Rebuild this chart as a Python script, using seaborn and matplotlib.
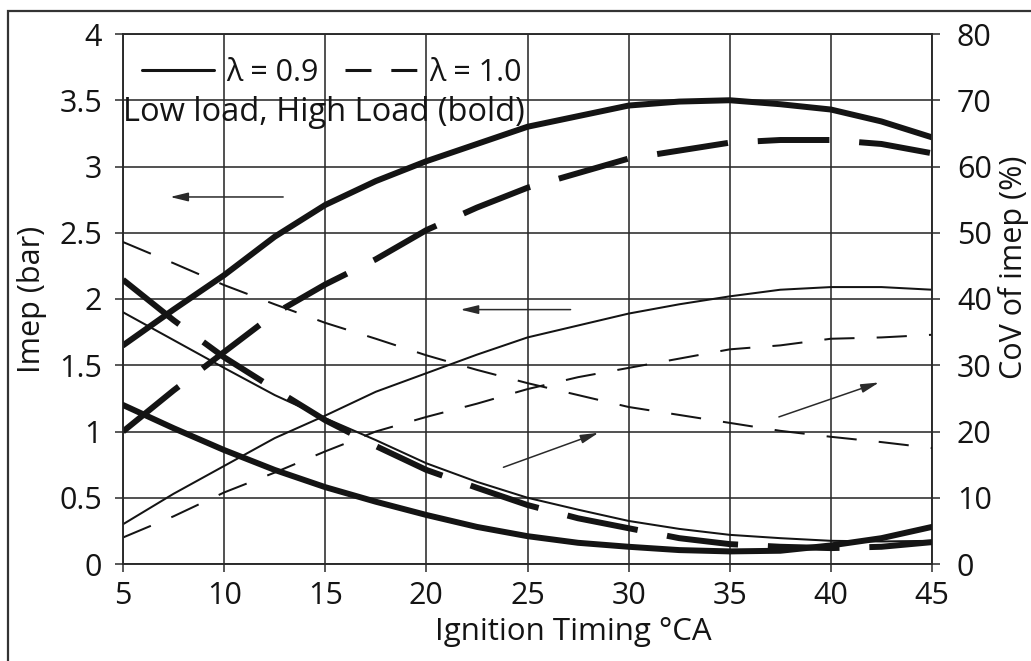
import matplotlib
matplotlib.use("Agg")
import matplotlib.pyplot as plt
from matplotlib.lines import Line2D
from matplotlib.patches import Rectangle
import pandas as pd
import seaborn as sns

# Ignition timing (deg CA)
timing = [5, 7.5, 10, 12.5, 15, 17.5, 20, 22.5, 25, 27.5, 30, 32.5, 35, 37.5, 40, 42.5, 45]

# Imep (bar) - left axis
imep_high_l09 = [1.65, 1.92, 2.18, 2.47, 2.71, 2.89, 3.04, 3.17, 3.30, 3.38, 3.46, 3.49, 3.50, 3.47, 3.43, 3.34, 3.22]
imep_high_l10 = [1.00, 1.31, 1.60, 1.89, 2.11, 2.30, 2.52, 2.69, 2.84, 2.95, 3.06, 3.12, 3.18, 3.20, 3.20, 3.17, 3.10]
imep_low_l09 = [0.30, 0.53, 0.74, 0.95, 1.12, 1.30, 1.44, 1.58, 1.71, 1.80, 1.89, 1.96, 2.02, 2.07, 2.09, 2.09, 2.07]
imep_low_l10 = [0.20, 0.36, 0.54, 0.69, 0.85, 1.00, 1.11, 1.21, 1.32, 1.41, 1.48, 1.55, 1.62, 1.65, 1.70, 1.71, 1.73]

# CoV of imep (%) - right axis
cov_high_l09 = [24.0, 20.5, 17.2, 14.2, 11.6, 9.4, 7.4, 5.6, 4.2, 3.2, 2.6, 2.1, 1.9, 2.0, 2.8, 3.9, 5.6]
cov_high_l10 = [42.9, 36.8, 31.2, 26.4, 21.7, 17.8, 14.2, 11.5, 8.9, 6.9, 5.4, 3.9, 3.0, 2.6, 2.4, 2.6, 3.3]
cov_low_l09 = [38.0, 33.8, 29.6, 25.5, 22.0, 18.7, 15.2, 12.4, 10.0, 8.2, 6.5, 5.3, 4.4, 3.9, 3.5, 3.4, 3.5]
cov_low_l10 = [48.6, 45.4, 42.1, 39.2, 36.4, 34.0, 31.5, 29.3, 27.3, 25.5, 23.7, 22.5, 21.3, 20.1, 19.2, 18.4, 17.5]

x_ticks = [5, 10, 15, 20, 25, 30, 35, 40, 45]
imep_ticks = [0, 0.5, 1, 1.5, 2, 2.5, 3, 3.5, 4]
imep_tick_labels = ["0", "0.5", "1", "1.5", "2", "2.5", "3", "3.5", "4"]
cov_ticks = [0, 10, 20, 30, 40, 50, 60, 70, 80]
cov_tick_labels = ["0", "10", "20", "30", "40", "50", "60", "70", "80"]

legend_labels = ["\u03bb = 0.9", "\u03bb = 1.0"]
note_text = "Low load, High Load (bold)"

# direction arrows: (tail, head) in timing / imep units
arrows = [
    ((12.92, 2.77), (7.33, 2.77)),
    ((27.13, 1.92), (21.68, 1.92)),
    ((23.81, 0.73), (28.51, 0.99)),
    ((37.43, 1.11), (42.38, 1.37)),
]

sns.set_theme(style="white")
plt.rcParams["font.family"] = ["Open Sans", "DejaVu Sans"]
plt.rcParams["axes.linewidth"] = 1.3

INK = "#141414"
GRID = "#2a2a2a"
FS = 22

W, H = 1031, 661
fig = plt.figure(figsize=(W / 100, H / 100), dpi=100)
left, right, top, bottom = 123, 932, 34, 564
ax = fig.add_axes([left / W, 1 - bottom / H, (right - left) / W, (bottom - top) / H])
ax2 = ax.twinx()

df = pd.DataFrame({
    "timing": timing,
    "imep_high_l09": imep_high_l09, "imep_high_l10": imep_high_l10,
    "imep_low_l09": imep_low_l09, "imep_low_l10": imep_low_l10,
    "cov_high_l09": cov_high_l09, "cov_high_l10": cov_high_l10,
    "cov_low_l09": cov_low_l09, "cov_low_l10": cov_low_l10,
})

BOLD = 4.3
THIN = 1.45
bold_dash = (0, (12, 5))
thin_dash = (0, (15, 11))

def draw(axis, col, lw, ls):
    sns.lineplot(data=df, x="timing", y=col, ax=axis, color=INK, linewidth=lw,
                 linestyle=ls, legend=False, zorder=3)

draw(ax, "imep_high_l09", BOLD, "-")
draw(ax, "imep_high_l10", BOLD, bold_dash)
draw(ax, "imep_low_l09", THIN, "-")
draw(ax, "imep_low_l10", THIN, thin_dash)
draw(ax2, "cov_high_l09", BOLD, "-")
draw(ax2, "cov_high_l10", BOLD, bold_dash)
draw(ax2, "cov_low_l09", THIN, "-")
draw(ax2, "cov_low_l10", THIN, thin_dash)

for tail, head in arrows:
    ax.annotate("", xy=head, xytext=tail, xycoords="data", textcoords="data",
                arrowprops=dict(arrowstyle="-|>,head_length=0.9,head_width=0.22",
                                color="#2a2a2a", lw=1.1, shrinkA=0, shrinkB=0),
                zorder=4)

ax.set_xlim(5, 45)
ax.set_ylim(0, 4)
ax2.set_ylim(0, 80)
ax.set_xticks(x_ticks)
ax.set_xticklabels([str(t) for t in x_ticks])
ax.set_yticks(imep_ticks)
ax.set_yticklabels(imep_tick_labels)
ax2.set_yticks(cov_ticks)
ax2.set_yticklabels(cov_tick_labels)

ax.grid(True, color=GRID, linewidth=1.15)
ax.set_axisbelow(True)
for a in (ax, ax2):
    for s in a.spines.values():
        s.set_color(GRID)
        s.set_linewidth(1.15)

ax.tick_params(axis="both", which="major", direction="out", length=6, width=1.1,
               color=GRID, labelsize=FS, labelcolor=INK, left=True, bottom=True)
ax.tick_params(axis="y", pad=9)
ax.tick_params(axis="x", pad=6)
ax2.tick_params(axis="y", direction="out", length=6, width=1.1, color=GRID,
                labelsize=FS, labelcolor=INK, right=True, pad=12)

ax.set_xlabel("Ignition Timing \u00b0CA", fontsize=FS + 0.5, color=INK)
ax.set_ylabel("Imep (bar)", fontsize=FS, color=INK)
ax2.set_ylabel("CoV of imep (%)", fontsize=FS, color=INK)
ax.xaxis.set_label_coords(0.557, -0.1)
ax.yaxis.set_label_coords(-0.094, 0.5)
ax2.yaxis.set_label_coords(1.082, 0.56)

handles = [
    Line2D([], [], color=INK, linewidth=2.2, linestyle="-"),
    Line2D([], [], color=INK, linewidth=2.2, linestyle=(0, (8.5, 6.5))),
]
leg = ax2.legend(handles, legend_labels, loc="center left", ncol=2, frameon=False,
                 fontsize=FS, handlelength=2.35, handletextpad=0.42, columnspacing=0.85,
                 borderpad=0, borderaxespad=0,
                 bbox_to_anchor=(142 / W, 1 - 73 / H), bbox_transform=fig.transFigure)
for t in leg.get_texts():
    t.set_color(INK)

ax.text(5.0, 3.41, note_text, ha="left", va="center", fontsize=FS + 1.5, color=INK, zorder=5)

# outer border of the figure panel (open to the right and bottom)
fig.add_artist(Rectangle((8 / W, -0.05), 1.2, (1 - 11 / H) + 0.05, transform=fig.transFigure,
                         fill=False, edgecolor="#333333", linewidth=1.6))

fig.savefig("out.png", dpi=100, facecolor="white")
